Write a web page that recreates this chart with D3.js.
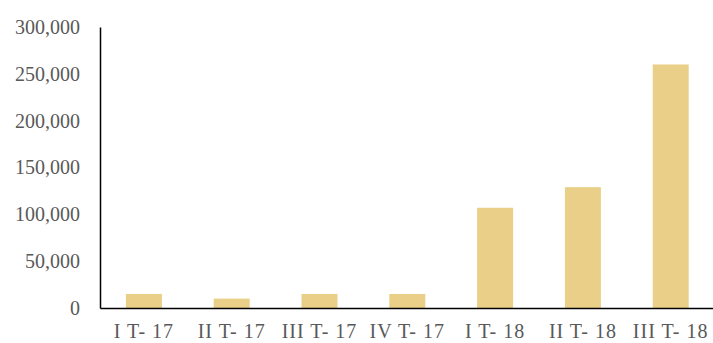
<!DOCTYPE html>
<html>
<head>
<meta charset="utf-8">
<script src="https://cdn.jsdelivr.net/npm/d3@7"></script>
<style>
  body { margin: 0; background: #fff; }
  text { font-family: "Liberation Serif", "DejaVu Serif", serif; fill: #595959; }
</style>
</head>
<body>
<svg id="chart" width="713" height="343"></svg>
<script>
var categories = ["I T- 17", "II T- 17", "III T- 17", "IV T- 17", "I T- 18", "II T- 18", "III T- 18"];
var values = [15000, 10000, 15000, 15000, 107000, 129000, 260000];
var yTicks = [0, 50000, 100000, 150000, 200000, 250000, 300000];

var svg = d3.select("#chart"),
    plotLeft = 100, plotRight = 714.6, plotTop = 27, plotBottom = 308;

var x = d3.scaleBand()
    .domain(categories)
    .range([plotLeft, plotRight])
    .paddingInner(0.59)
    .paddingOuter(0.295);

var y = d3.scaleLinear()
    .domain([0, 300000])
    .range([plotBottom, plotTop]);

// bars
svg.append("g").selectAll("rect")
    .data(values)
    .enter().append("rect")
    .attr("x", function(d, i) { return x(categories[i]); })
    .attr("y", function(d) { return y(d); })
    .attr("width", x.bandwidth())
    .attr("height", function(d) { return plotBottom - y(d); })
    .attr("fill", "#E9CF87");

// y axis
var yAxis = svg.append("g")
    .attr("transform", "translate(" + plotLeft + ",0)")
    .call(d3.axisLeft(y).tickValues(yTicks).tickSize(0).tickPadding(20).tickFormat(d3.format(",")));
yAxis.select(".domain").attr("stroke", "#000").attr("stroke-width", 1.5);
yAxis.selectAll("text").style("font-size", "20px").attr("fill", "#595959")
    .style("font-family", "'Liberation Serif', serif");

// x axis
var xAxis = svg.append("g")
    .attr("transform", "translate(0," + plotBottom + ")")
    .call(d3.axisBottom(x).tickSize(0).tickPadding(16));
xAxis.select(".domain").attr("stroke", "#000").attr("stroke-width", 1.5);
xAxis.selectAll("text").style("font-size", "20px").attr("fill", "#595959")
    .style("font-family", "'Liberation Serif', serif")
    .style("letter-spacing", "1px");
</script>
</body>
</html>
